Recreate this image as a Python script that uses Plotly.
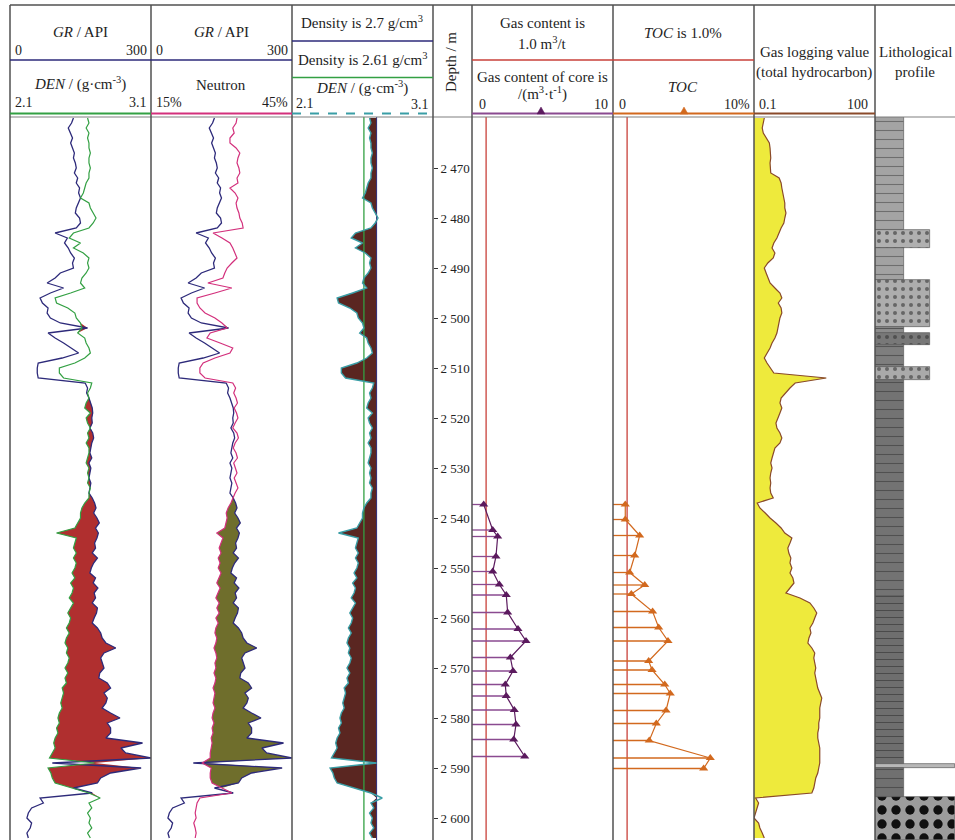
import plotly.graph_objects as go

W, H = 955, 840

# ---------------- data ----------------
depth = list(range(2460, 2605))

gr = [135, 131, 124, 129, 133, 129, 133, 137, 135, 139,
      141, 137, 144, 141, 148, 146, 150, 146, 141, 139,
      148, 150, 141, 96, 122, 116, 124, 129, 137, 133,
      135, 107, 96, 79, 114, 86, 64, 69, 81, 79,
      86, 107, 165, 81, 96, 114, 129, 146, 111, 60,
      58, 58, 60, 160, 165, 163, 168, 172, 175, 176,
      174, 175, 170, 176, 178, 174, 172, 170, 174, 168,
      172, 170, 168, 172, 170, 168, 175, 180, 183, 178,
      185, 190, 182, 188, 185, 180, 182, 175, 186, 178,
      173, 170, 182, 177, 187, 179, 182, 175, 186, 184,
      179, 175, 186, 193, 196, 204, 225, 200, 193, 196,
      200, 191, 189, 207, 214, 200, 207, 204, 196, 214,
      234, 207, 214, 214, 204, 282, 236, 246, 300, 90,
      279, 214, 193, 186, 135, 175, 64, 71, 46, 39,
      36, 46, 43, 36, 39]

den = [2.65, 2.66, 2.64, 2.66, 2.65, 2.66, 2.66, 2.67, 2.66, 2.66,
       2.67, 2.66, 2.66, 2.64, 2.63, 2.62, 2.60, 2.66, 2.67, 2.69,
       2.71, 2.69, 2.66, 2.55, 2.52, 2.60, 2.55, 2.62, 2.66, 2.65,
       2.66, 2.64, 2.61, 2.60, 2.63, 2.53, 2.42, 2.43, 2.51, 2.56,
       2.57, 2.60, 2.61, 2.58, 2.63, 2.64, 2.66, 2.67, 2.63, 2.56,
       2.45, 2.45, 2.48, 2.68, 2.67, 2.65, 2.66, 2.64, 2.63, 2.67,
       2.64, 2.65, 2.67, 2.65, 2.66, 2.64, 2.66, 2.66, 2.65, 2.64,
       2.66, 2.65, 2.66, 2.65, 2.67, 2.66, 2.66, 2.63, 2.61, 2.60,
       2.60, 2.58, 2.56, 2.43, 2.57, 2.56, 2.55, 2.57, 2.55, 2.57,
       2.56, 2.54, 2.56, 2.53, 2.55, 2.54, 2.52, 2.55, 2.53, 2.51,
       2.53, 2.52, 2.50, 2.52, 2.50, 2.49, 2.51, 2.50, 2.52, 2.51,
       2.49, 2.51, 2.49, 2.50, 2.47, 2.48, 2.47, 2.46, 2.47, 2.45,
       2.44, 2.45, 2.43, 2.44, 2.42, 2.41, 2.42, 2.40, 2.38, 2.70,
       2.37, 2.39, 2.40, 2.42, 2.55, 2.66, 2.74, 2.66, 2.68, 2.65,
       2.67, 2.66, 2.68, 2.65, 2.67]

neu = [33.3, 33.1, 32.4, 32.7, 31.8, 31.8, 33.1, 33.9, 33.5, 33.3,
       33.7, 33.9, 33.3, 33.5, 31.8, 32.9, 33.5, 33.1, 33.3, 33.7,
       33.9, 34.4, 34.6, 28.2, 30.1, 31.8, 32.4, 32.9, 33.3, 32.2,
       31.2, 30.7, 30.3, 27.1, 32.2, 28.6, 24.8, 24.8, 25.4, 26.5,
       28.6, 30.1, 31.2, 27.6, 26.9, 29.7, 32.4, 31.8, 28.6, 26.1,
       25.4, 25.4, 26.5, 32.4, 33.0, 32.6, 33.1, 33.4, 32.7, 33.2,
       33.5, 32.9, 32.4, 33.3, 33.6, 32.9, 32.5, 33.1, 33.4, 32.6,
       33.0, 33.3, 32.7, 33.1, 33.5, 32.9, 32.5, 32.0, 31.4, 31.0,
       31.2, 31.0, 30.7, 29.0, 30.3, 29.9, 29.5, 29.9, 29.3, 29.7,
       29.3, 29.9, 29.5, 29.0, 29.7, 29.3, 28.8, 29.5, 29.0, 29.5,
       28.8, 29.3, 28.8, 28.6, 29.0, 28.8, 28.4, 28.8, 29.0, 28.6,
       28.8, 28.4, 28.8, 28.6, 28.2, 28.6, 28.4, 28.2, 28.6, 28.2,
       28.0, 28.4, 28.0, 28.2, 27.8, 28.0, 27.8, 27.6, 27.6, 25.9,
       27.8, 27.6, 27.6, 28.0, 30.1, 32.2, 25.4, 24.8, 24.6, 24.4,
       24.6, 24.1, 24.4, 24.6, 24.4]

gas_log = [0.18, 0.17, 0.16, 0.17, 0.20, 0.24, 0.25, 0.26, 0.26, 0.25,
           0.26, 0.26, 0.42, 0.47, 0.49, 0.52, 0.55, 0.58, 0.58, 0.62,
           0.58, 0.55, 0.47, 0.42, 0.37, 0.31, 0.28, 0.33, 0.30, 0.22,
           0.18, 0.20, 0.22, 0.25, 0.33, 0.44, 0.49, 0.40, 0.47, 0.49,
           0.44, 0.42, 0.40, 0.37, 0.33, 0.28, 0.25, 0.21, 0.18, 0.21,
           0.25, 0.31, 6.2, 1.05, 0.78, 0.62, 0.47, 0.44, 0.49, 0.44,
           0.40, 0.35, 0.37, 0.44, 0.49, 0.44, 0.33, 0.30, 0.28, 0.26,
           0.28, 0.26, 0.25, 0.26, 0.25, 0.26, 0.30, 0.12, 0.14, 0.19,
           0.25, 0.35, 0.47, 0.58, 0.87, 0.78, 0.69, 0.73, 0.82, 0.78,
           0.87, 0.78, 0.92, 0.98, 0.78, 0.62, 1.38, 2.43, 3.04, 3.60,
           3.21, 2.88, 2.43, 2.58, 2.30, 2.17, 2.72, 3.21, 3.04, 3.21,
           3.40, 3.21, 3.40, 3.60, 3.81, 4.27, 4.79, 4.52, 4.27, 4.27,
           4.27, 4.03, 4.03, 3.81, 3.81, 4.03, 4.27, 4.27, 4.27, 4.27,
           4.03, 3.81, 3.40, 3.21, 3.04, 2.72, 0.11, 0.13, 0.12, 0.11,
           0.10, 0.13, 0.14, 0.16, 0.18]

gc_depth = [2537.3, 2542.4, 2543.7, 2547.7, 2550.7, 2553.3, 2555.4, 2558.9, 2562.2,
            2564.6, 2567.9, 2570.6, 2573.3, 2575.6, 2578.4, 2581.3, 2584.3, 2587.7]
gc_val = [0.83, 1.47, 1.82, 1.70, 1.47, 1.94, 2.43, 2.53, 3.26,
          3.83, 2.72, 2.91, 2.36, 2.43, 3.00, 3.12, 2.96, 3.74]

toc_depth = [2537.3, 2540.3, 2543.5, 2547.5, 2550.9, 2553.4, 2555.2, 2558.7, 2561.9, 2564.6,
             2568.6, 2570.4, 2573.3, 2575.1, 2578.5, 2581.1, 2584.5, 2588.0, 2590.1]
toc_val = [0.87, 0.87, 1.89, 1.54, 1.18, 2.25, 1.30, 2.81, 3.24, 3.90,
           2.53, 2.77, 3.67, 4.06, 3.76, 3.07, 2.57, 6.90, 6.43]

den_cut_low, den_cut_high = 2.61, 2.7
gc_cut = 1.0
toc_cut = 1.0

litho_top = [2459.8, 2482.3, 2486.0, 2492.3, 2501.8, 2503.0, 2505.4, 2509.8, 2512.4, 2555.6, 2589.2, 2590.0, 2595.8]
litho_bot = [2482.3, 2486.0, 2492.3, 2501.8, 2503.0, 2505.4, 2509.8, 2512.4, 2555.6, 2589.2, 2590.0, 2595.8, 2604.4]
litho_w = [0.36, 0.69, 0.36, 0.69, 0.36, 0.69, 0.36, 0.69, 0.36, 0.36, 1.0, 0.36, 1.0]
litho_col = ['#a4a4a4', '#b0b0b0', '#a2a2a2', '#adadad', '#8c8c8c', '#787878', '#7e7e7e',
             '#aaaaaa', '#737373', '#6e6e6e', '#b8b8b8', '#707070', '#9c9c9c']
litho_pat = ['-', '.', '-', '.', '-', '.', '-', '.', '-', '-', '', '-', '.']
litho_fg = ['#6e6e6e', '#666666', '#6e6e6e', '#666666', '#555555', '#505050', '#555555',
            '#666666', '#505050', '#4a4a4a', '#888888', '#4f4f4f', '#101010']
litho_size = [9, 8, 9, 8, 9, 8, 9, 8, 9, 7, 8, 9, 14]
litho_sol = [0.12, 0.2, 0.12, 0.2, 0.12, 0.2, 0.12, 0.2, 0.12, 0.15, 0.1, 0.12, 0.35]

depth_ticks = list(range(2470, 2601, 10))
depth_ticktext = [f"{v // 1000} {v % 1000:03d}" for v in depth_ticks]

# ---------------- style ----------------
YTOP, YBOT = 2459.8, 2604.4
NAVY = '#2d2a7a'
GREEN = '#33a043'
MAGENTA = '#d3307c'
RED_FILL = '#b02f2f'
OLIVE = '#6f6e2c'
BROWN = '#5a2621'
TEAL = '#3a9ea6'
REDLINE = '#c8403a'
PURPLE = '#5b1a5e'
PURPLE_L = '#8a4a90'
ORANGE = '#d2691e'
YELLOW = '#eeea3c'
GASLINE = '#8a4a2a'
FONT = 'Liberation Serif'


def X(p):
    return p / W


def Y(p):
    return 1 - p / H


n = len(depth)
den_gr = [(d - 2.1) / 1.0 * 300 for d in den]
neu_gr = [(v - 15) / 30 * 300 for v in neu]
fill1 = [max(a, b) for a, b in zip(gr, den_gr)]
fill2 = [max(a, b) for a, b in zip(gr, neu_gr)]
fill3 = [min(d, den_cut_high) for d in den]

fig = go.Figure()

def add(tr):
    fig.add_trace(tr)

# Track 1
add(go.Scatter(x=den_gr, y=depth, xaxis='x', yaxis='y', mode='lines', line=dict(width=0), hoverinfo='skip'))
add(go.Scatter(x=fill1, y=depth, xaxis='x', yaxis='y', mode='lines', line=dict(width=0),
               fill='tonextx', fillcolor=RED_FILL, hoverinfo='skip'))
add(go.Scatter(x=gr, y=depth, xaxis='x', yaxis='y', mode='lines', line=dict(color=NAVY, width=1.3)))
add(go.Scatter(x=den, y=depth, xaxis='x8', yaxis='y', mode='lines', line=dict(color=GREEN, width=1.2)))

# Track 2
add(go.Scatter(x=neu_gr, y=depth, xaxis='x2', yaxis='y', mode='lines', line=dict(width=0), hoverinfo='skip'))
add(go.Scatter(x=fill2, y=depth, xaxis='x2', yaxis='y', mode='lines', line=dict(width=0),
               fill='tonextx', fillcolor=OLIVE, hoverinfo='skip'))
add(go.Scatter(x=gr, y=depth, xaxis='x2', yaxis='y', mode='lines', line=dict(color=NAVY, width=1.3)))
add(go.Scatter(x=neu, y=depth, xaxis='x9', yaxis='y', mode='lines', line=dict(color=MAGENTA, width=1.2)))

# Track 3
add(go.Scatter(x=[den_cut_high] * n, y=depth, xaxis='x3', yaxis='y', mode='lines', line=dict(width=0), hoverinfo='skip'))
add(go.Scatter(x=fill3, y=depth, xaxis='x3', yaxis='y', mode='lines', line=dict(width=0),
               fill='tonextx', fillcolor=BROWN, hoverinfo='skip'))
add(go.Scatter(x=[den_cut_low, den_cut_low], y=[YTOP, YBOT], xaxis='x3', yaxis='y', mode='lines',
               line=dict(color=GREEN, width=1.3)))
add(go.Scatter(x=[den_cut_high, den_cut_high], y=[YTOP, YBOT], xaxis='x3', yaxis='y', mode='lines',
               line=dict(color=NAVY, width=1)))
add(go.Scatter(x=den, y=depth, xaxis='x3', yaxis='y', mode='lines', line=dict(color=TEAL, width=1.4)))

# Track 5: gas content
add(go.Scatter(x=[gc_cut, gc_cut], y=[YTOP, YBOT], xaxis='x4', yaxis='y', mode='lines',
               line=dict(color=REDLINE, width=1.3)))
hx, hy = [], []
for d, v in zip(gc_depth, gc_val):
    hx += [0, v, None]
    hy += [d, d, None]
add(go.Scatter(x=hx, y=hy, xaxis='x4', yaxis='y', mode='lines', line=dict(color=PURPLE_L, width=1.3)))
add(go.Scatter(x=gc_val, y=gc_depth, xaxis='x4', yaxis='y', mode='lines+markers',
               line=dict(color=PURPLE, width=1.2),
               marker=dict(symbol='triangle-up', size=8, color=PURPLE)))

# Track 6: TOC
add(go.Scatter(x=[toc_cut, toc_cut], y=[YTOP, YBOT], xaxis='x5', yaxis='y', mode='lines',
               line=dict(color=REDLINE, width=1.3)))
hx, hy = [], []
for d, v in zip(toc_depth, toc_val):
    hx += [0, v, None]
    hy += [d, d, None]
add(go.Scatter(x=hx, y=hy, xaxis='x5', yaxis='y', mode='lines', line=dict(color=ORANGE, width=1.3)))
add(go.Scatter(x=toc_val, y=toc_depth, xaxis='x5', yaxis='y', mode='lines+markers',
               line=dict(color=ORANGE, width=1.2),
               marker=dict(symbol='triangle-up', size=8, color=ORANGE)))

# Track 7: gas logging (log)
add(go.Scatter(x=[0.1] * n, y=depth, xaxis='x6', yaxis='y', mode='lines', line=dict(width=0), hoverinfo='skip'))
add(go.Scatter(x=gas_log, y=depth, xaxis='x6', yaxis='y', mode='lines', line=dict(color=GASLINE, width=1.2),
               fill='tonextx', fillcolor=YELLOW))

# Track 8: lithology (one bar per interval)
for t, b, w, c, p, fg, sz, so in zip(litho_top, litho_bot, litho_w, litho_col, litho_pat,
                                     litho_fg, litho_size, litho_sol):
    add(go.Bar(orientation='h', y=[(t + b) / 2], x=[w], width=[b - t], base=0, xaxis='x7', yaxis='y',
               marker=dict(color=c, line=dict(color='#5a5a5a', width=0.7),
                           pattern=dict(shape=p, fgcolor=fg, bgcolor=c, size=sz, solidity=so,
                                        fillmode='replace'))))

# ---------------- layout ----------------
def xa(a, b, rng, typ='linear', overlay=None):
    d = dict(domain=[X(a), X(b)], range=rng, visible=False, anchor='y', type=typ, fixedrange=True)
    if overlay:
        d['overlaying'] = overlay
    return d

layout = dict(
    width=W, height=H, margin=dict(l=0, r=0, t=0, b=0),
    paper_bgcolor='white', plot_bgcolor='white', showlegend=False,
    xaxis=xa(10, 151, [0, 300]),
    xaxis2=xa(151, 292, [0, 300]),
    xaxis3=xa(292, 433, [2.1, 3.1]),
    xaxis4=xa(472, 613, [0, 10]),
    xaxis5=xa(613, 754, [0, 10]),
    xaxis6=xa(754, 875, [-1, 2], typ='log'),
    xaxis7=xa(875, 955, [0, 1]),
    xaxis8=xa(10, 151, [2.1, 3.1], overlay='x'),
    xaxis9=xa(151, 292, [15, 45], overlay='x2'),
    yaxis=dict(domain=[0, Y(117)], range=[YBOT, YTOP], anchor='free', position=X(433), side='right',
               ticks='outside', ticklen=4, tickwidth=1, tickcolor='#333', tickvals=depth_ticks,
               ticktext=depth_ticktext, tickfont=dict(family=FONT, size=13, color='#222'),
               showgrid=False, zeroline=False, showline=False, fixedrange=True),
    bargap=0, barmode='overlay',
)
fig.update_layout(**layout)

shapes = []
def hline(x0, x1, y, color, width=1.5, dash='solid'):
    shapes.append(dict(type='line', xref='paper', yref='paper', x0=X(x0), x1=X(x1), y0=Y(y), y1=Y(y),
                       line=dict(color=color, width=width, dash=dash)))

def vline(x, y0, y1, color='#505050', width=1.5):
    shapes.append(dict(type='line', xref='paper', yref='paper', x0=X(x), x1=X(x), y0=Y(y0), y1=Y(y1),
                       line=dict(color=color, width=width)))

# frame
hline(10, 955, 5, '#505050', 1.5)
hline(10, 955, 117, '#808080', 1.2)
for xv in [10, 151, 292, 433, 472, 613, 754, 875]:
    vline(xv, 5, 840)
# header coloured lines
hline(10, 151, 60, NAVY)
hline(10, 151, 113.5, GREEN, 1.8)
hline(151, 292, 60, NAVY)
hline(151, 292, 113.5, MAGENTA, 1.8)
hline(292, 433, 41, NAVY)
hline(292, 433, 77.5, GREEN)
hline(292, 433, 113.5, TEAL, 1.8, 'dash')
hline(472, 613, 60, REDLINE)
hline(472, 613, 113.5, PURPLE_L, 1.8)
hline(613, 754, 60, REDLINE)
hline(613, 754, 113.5, ORANGE, 1.8)
hline(754, 875, 113.5, GASLINE, 1.8)

def tri(cx, cy, color):
    p = f"M {X(cx-4)},{Y(cy)} L {X(cx+4)},{Y(cy)} L {X(cx)},{Y(cy-7)} Z"
    shapes.append(dict(type='path', xref='paper', yref='paper', path=p, fillcolor=color,
                       line=dict(color=color, width=0.5)))

tri(541, 114, PURPLE)
tri(684, 114, ORANGE)

fig.update_layout(shapes=shapes)

ann = []
def text(t, x, y, size=15, anchor='center', angle=0):
    ann.append(dict(text=t, x=X(x), y=Y(y), xref='paper', yref='paper', showarrow=False,
                    xanchor=anchor, yanchor='middle', textangle=angle,
                    font=dict(family=FONT, size=size, color='#1e1e1e')))

# track 1
text('<i>GR</i> / API', 80, 32)
text('0', 13, 50, 14, 'left')
text('300', 149, 50, 14, 'right')
text('<i>DEN</i> / (g·cm<sup>-3</sup>)', 80, 84)
text('2.1', 13, 102, 14, 'left')
text('3.1', 149, 102, 14, 'right')
# track 2
text('<i>GR</i> / API', 221, 32)
text('0', 154, 50, 14, 'left')
text('300', 290, 50, 14, 'right')
text('Neutron', 221, 85)
text('15%', 154, 102, 14, 'left')
text('45%', 290, 102, 14, 'right')
# track 3
text('Density is 2.7 g/cm<sup>3</sup>', 362, 22)
text('Density is 2.61 g/cm<sup>3</sup>', 362, 59)
text('<i>DEN</i> / (g·cm<sup>-3</sup>)', 362, 88)
text('2.1', 294, 103, 14, 'left')
text('3.1', 431, 104, 14, 'right')
# depth
text('Depth / m', 451, 62, 15, 'center', -90)
# gas content
text('Gas content is', 542, 23)
text('1.0 m<sup>3</sup>/t', 542, 43)
text('Gas content of core is', 542, 77)
text('/(m<sup>3</sup>·t<sup>-1</sup>)', 542, 93)
text('0', 477, 104, 14, 'left')
text('10', 610, 104, 14, 'right')
# TOC
text('<i>TOC</i> is 1.0%', 683, 33)
text('<i>TOC</i>', 683, 87)
text('0', 617, 104, 14, 'left')
text('10%', 752, 104, 14, 'right')
# gas logging
text('Gas logging value', 814, 52)
text('(total hydrocarbon)', 814, 72)
text('0.1', 757, 104, 14, 'left')
text('100', 870, 104, 14, 'right')
# litho
text('Lithological', 915, 52)
text('profile', 915, 72)

fig.update_layout(annotations=ann)

fig.write_html('out.html', config={'displayModeBar': False},
               post_script="document.body.style.margin='0px';document.body.style.overflow='hidden';")
